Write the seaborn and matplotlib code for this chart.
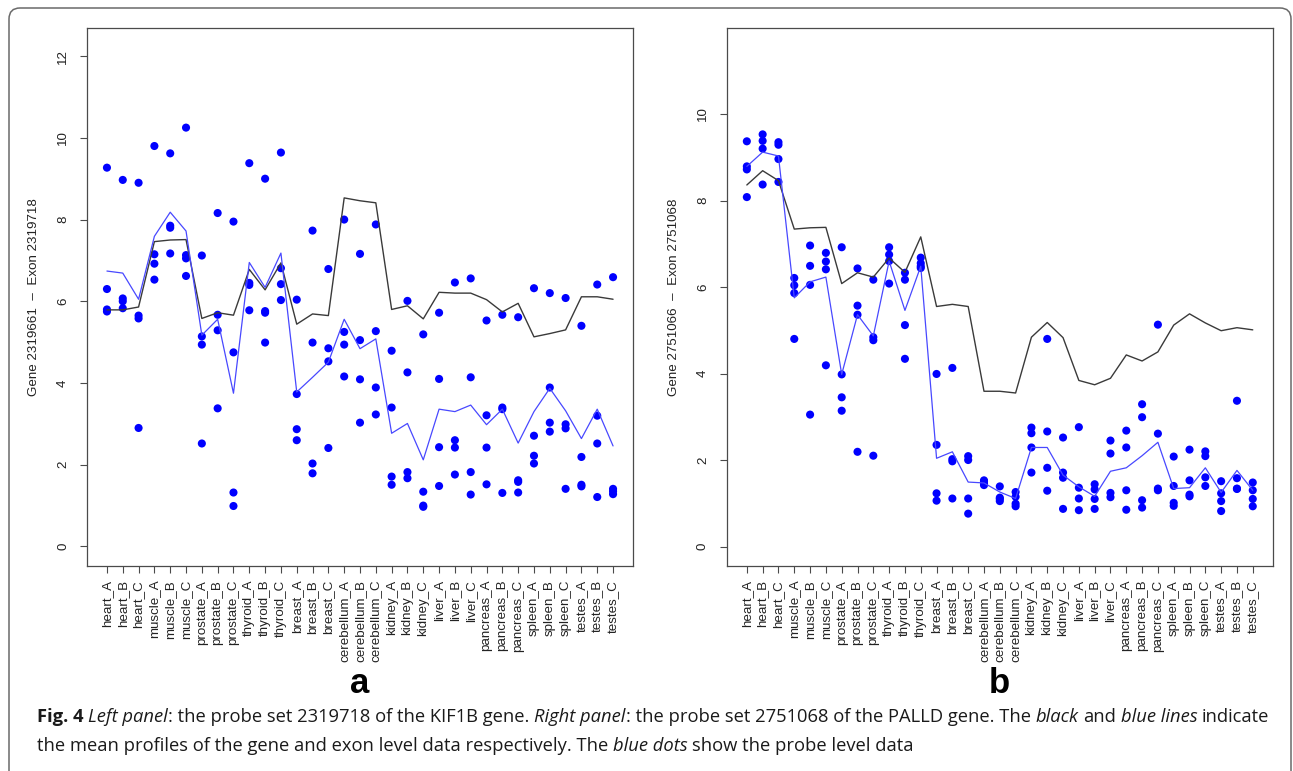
import numpy as np
import pandas as pd
import matplotlib
matplotlib.use("Agg")
import matplotlib.pyplot as plt
import seaborn as sns
from matplotlib.patches import FancyBboxPatch
from matplotlib.transforms import IdentityTransform

# ---------------- data ----------------
tissues = ["heart", "muscle", "prostate", "thyroid", "breast", "cerebellum",
           "kidney", "liver", "pancreas", "spleen", "testes"]
replicates = ["A", "B", "C"]
samples = [f"{t}_{r}" for t in tissues for r in replicates]

# Left panel (KIF1B, probe set 2319718): probe-level values (4 probes per sample)
left_probes = [
    [9.27, 6.30, 5.80, 5.75], [8.97, 6.07, 6.00, 5.83], [8.90, 5.65, 5.58, 2.90],
    [9.80, 7.15, 6.92, 6.53], [9.62, 7.85, 7.80, 7.17], [10.25, 7.13, 7.05, 6.62],
    [7.12, 5.14, 4.94, 2.52], [8.16, 5.67, 5.29, 3.38], [7.95, 4.75, 1.32, 0.99],
    [9.38, 6.45, 6.40, 5.78], [9.00, 5.76, 5.72, 4.99], [9.64, 6.81, 6.42, 6.03],
    [6.04, 3.73, 2.87, 2.60], [7.73, 4.99, 2.03, 1.79], [6.79, 4.85, 4.53, 2.41],
    [8.00, 5.25, 4.94, 4.16], [7.16, 5.05, 4.09, 3.03], [7.88, 5.27, 3.89, 3.23],
    [4.79, 3.40, 1.71, 1.51], [6.01, 4.26, 1.82, 1.67], [5.19, 1.34, 1.00, 0.97],
    [5.72, 4.10, 2.43, 1.48], [6.46, 2.60, 2.42, 1.76], [6.56, 4.14, 1.82, 1.27],
    [5.53, 3.21, 2.42, 1.52], [5.67, 3.40, 3.36, 1.31], [5.61, 1.62, 1.58, 1.32],
    [6.32, 2.71, 2.22, 2.03], [6.20, 3.89, 3.03, 2.81], [6.08, 2.99, 2.89, 1.41],
    [5.40, 2.19, 1.51, 1.47], [6.41, 3.20, 2.52, 1.21], [6.59, 1.41, 1.35, 1.28],
]
left_gene = [5.79, 5.79, 5.86, 7.46, 7.50, 7.51, 5.58, 5.72, 5.66, 6.78, 6.28,
             6.94, 5.44, 5.69, 5.65, 8.53, 8.46, 8.41, 5.80, 5.89, 5.57, 6.22,
             6.20, 6.20, 6.04, 5.74, 5.95, 5.13, 5.21, 5.30, 6.11, 6.11, 6.05]
left_exon = [6.74, 6.69, 6.05, 7.59, 8.18, 7.72, 5.17, 5.56, 3.75, 6.95, 6.34,
             7.18, 3.78, 4.14, 4.51, 5.56, 4.84, 5.08, 2.77, 3.01, 2.12, 3.36,
             3.30, 3.46, 2.98, 3.36, 2.53, 3.30, 3.87, 3.32, 2.64, 3.36, 2.46]

# Right panel (PALLD, probe set 2751068)
right_probes = [
    [9.37, 8.79, 8.72, 8.08], [9.53, 9.38, 9.20, 8.37], [9.35, 9.29, 8.96, 8.43],
    [6.21, 6.04, 5.86, 4.80], [6.96, 6.49, 6.05, 3.05], [6.79, 6.59, 6.41, 4.19],
    [6.92, 3.98, 3.45, 3.14], [6.43, 5.57, 5.36, 2.19], [6.17, 4.84, 4.77, 2.10],
    [6.92, 6.75, 6.60, 6.08], [6.33, 6.17, 5.12, 4.34], [6.68, 6.55, 6.48, 6.44],
    [3.99, 2.35, 1.23, 1.06], [4.13, 2.02, 1.97, 1.11], [2.09, 2.00, 1.11, 0.76],
    [1.53, 1.50, 1.45, 1.42], [1.39, 1.13, 1.10, 1.05], [1.26, 1.15, 0.99, 0.93],
    [2.75, 2.62, 2.29, 1.71], [4.80, 2.66, 1.82, 1.29], [2.52, 1.71, 1.59, 0.87],
    [2.76, 1.36, 1.11, 0.84], [1.44, 1.32, 1.10, 0.87], [2.45, 2.15, 1.24, 1.14],
    [2.68, 2.29, 1.30, 0.85], [3.29, 2.99, 1.07, 0.90], [5.13, 2.61, 1.34, 1.30],
    [2.08, 1.40, 1.01, 0.94], [2.24, 1.53, 1.20, 1.16], [2.20, 2.09, 1.60, 1.40],
    [1.51, 1.23, 1.05, 0.82], [3.37, 1.58, 1.34, 1.33], [1.48, 1.30, 1.10, 0.93],
]
right_gene = [8.36, 8.69, 8.46, 7.34, 7.37, 7.38, 6.08, 6.33, 6.23, 6.67, 6.34,
              7.16, 5.55, 5.60, 5.55, 3.59, 3.59, 3.55, 4.84, 5.18, 4.83, 3.84,
              3.74, 3.89, 4.43, 4.29, 4.50, 5.12, 5.38, 5.17, 4.99, 5.06, 5.01]
right_exon = [8.79, 9.12, 9.03, 5.75, 6.12, 6.23, 3.98, 5.36, 4.87, 6.60, 5.46,
              6.48, 2.04, 2.19, 1.49, 1.47, 1.26, 1.11, 2.29, 2.29, 1.65, 1.38,
              1.16, 1.74, 1.82, 2.10, 2.41, 1.34, 1.36, 1.82, 1.25, 1.76, 1.30]

left_ylabel = "Gene 2319661  \u2013  Exon 2319718"
right_ylabel = "Gene 2751066  \u2013  Exon 2751068"
left_yticks = [0, 2, 4, 6, 8, 10, 12]
right_yticks = [0, 2, 4, 6, 8, 10]
panel_labels = ["a", "b"]

caption_line1 = [
    ("Fig. 4", "bold"), (" Left panel", "italic"),
    (": the probe set 2319718 of the KIF1B gene.", "normal"),
    (" Right panel", "italic"),
    (": the probe set 2751068 of the PALLD gene. The", "normal"),
    (" black", "italic"), (" and", "normal"), (" blue lines", "italic"),
    (" indicate", "normal"),
]
caption_line2 = [
    ("the mean profiles of the gene and exon level data respectively. The", "normal"),
    (" blue dots", "italic"), (" show the probe level data", "normal"),
]

# ---------------- style ----------------
W, H = 1293, 771
sns.set_style("white")
plt.rcParams["font.family"] = ["Liberation Sans", "DejaVu Sans"]
FRAME = "#4a4a4a"

fig = plt.figure(figsize=(W / 100, H / 100), dpi=100)
fig.patch.set_facecolor("white")


def px_axes(x0, x1, y0, y1):
    return fig.add_axes([x0 / W, (H - y1) / H, (x1 - x0) / W, (y1 - y0) / H])


axL = px_axes(86.7, 633.3, 28.0, 566.4)
axR = px_axes(726.6, 1273.0, 28.0, 566.4)


def draw_panel(ax, probes, gene, exon, ylabel, yticks, ylim, label):
    pts = pd.DataFrame([(s, v) for s, vals in zip(samples, probes) for v in vals],
                       columns=["sample", "value"])
    prof = pd.DataFrame({"sample": samples, "gene": gene, "exon": exon})
    sns.scatterplot(data=pts, x="sample", y="value", ax=ax, color="#0000ff",
                    s=34, edgecolor="none", linewidth=0, zorder=3)
    sns.lineplot(data=prof, x="sample", y="gene", ax=ax, color="#3a3a3a",
                 linewidth=1.0, sort=False, zorder=4)
    sns.lineplot(data=prof, x="sample", y="exon", ax=ax, color="#4848ff",
                 linewidth=0.9, sort=False, zorder=4)
    ax.set_xlim(-1.28, len(samples) - 1 + 1.28)
    ax.set_ylim(*ylim)
    ax.set_xticks(range(len(samples)))
    ax.set_xticklabels(samples, rotation=90, fontsize=9.6, color="#222222")
    ax.set_yticks(yticks)
    ax.set_yticklabels([str(t) for t in yticks], rotation=90, fontsize=9.6,
                       color="#222222", va="center")
    ax.set_xlabel("")
    ax.set_ylabel(ylabel, fontsize=9.6, color="#222222")
    ax.yaxis.label.set_va("center")
    ax.yaxis.set_label_coords(-0.097, 0.5)
    for sp in ax.spines.values():
        sp.set_visible(True)
        sp.set_color(FRAME)
        sp.set_linewidth(0.9)
    ax.tick_params(axis="both", direction="out", length=5.2, width=0.8,
                   color=FRAME, bottom=True, left=True)
    ax.tick_params(axis="x", pad=4.5)
    ax.tick_params(axis="y", pad=7.5)
    ax.grid(False)
    ax.text(0.5, -0.218, label, transform=ax.transAxes, ha="center", va="center",
            fontsize=25, fontweight="bold", color="black")


draw_panel(axL, left_probes, left_gene, left_exon, left_ylabel, left_yticks,
           (-0.488, 12.688), panel_labels[0])
draw_panel(axR, right_probes, right_gene, right_exon, right_ylabel, right_yticks,
           (-0.46, 11.99), panel_labels[1])

# ---------------- outer rounded border ----------------
border = FancyBboxPatch((9, -40), 1282, 771 - 8 + 40,
                        boxstyle="round,pad=0,rounding_size=11",
                        transform=IdentityTransform(), facecolor="none",
                        edgecolor="#6a6a6a", linewidth=1.1)
fig.add_artist(border)

# ---------------- caption with mixed styles ----------------
fig.canvas.draw()
renderer = fig.canvas.get_renderer()
CAP_FONT = ["Open Sans", "DejaVu Sans"]


def style_props(style, size):
    p = dict(fontsize=size, family=CAP_FONT, color="#1a1a1a")
    if style == "bold":
        p["fontweight"] = "bold"
    elif style == "italic":
        p["fontstyle"] = "italic"
    return p


def measure(s, props):
    t = fig.text(0, 0, s, **props)
    w = t.get_window_extent(renderer).width
    t.remove()
    return w


def advance(s, props):
    return measure("x" + s + "x", props) - measure("xx", props)


def line_width(segs, size):
    return sum(advance(s, style_props(st, size)) for s, st in segs)


x_start, x_end = 37.0, 1262.0
base = 13.0
size = base * (x_end - x_start) / line_width(caption_line1, base)


def draw_line(segs, y_base, size):
    x = x_start
    for s, st in segs:
        props = style_props(st, size)
        lead = len(s) - len(s.lstrip(" "))
        lead_w = advance(" " * lead, props) if lead else 0.0
        fig.text((x + lead_w) / W, (H - y_base) / H, s.strip(" "),
                 ha="left", va="baseline", **props)
        x += advance(s, props)


draw_line(caption_line1, 722.0, size)
draw_line(caption_line2, 751.0, size)

fig.savefig("out.png", dpi=100, facecolor="white")
